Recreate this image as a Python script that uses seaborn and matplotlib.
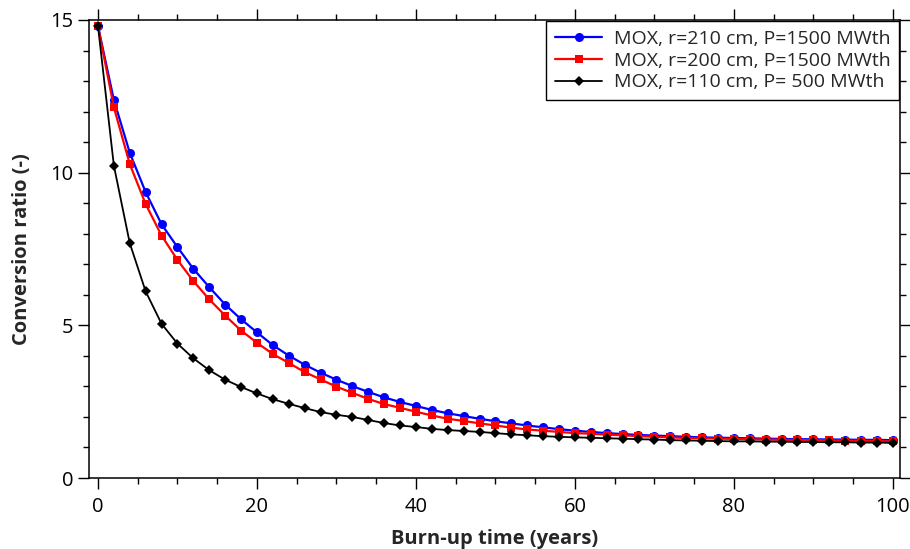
import numpy as np
import pandas as pd
import matplotlib
matplotlib.use("Agg")
import matplotlib.pyplot as plt
import seaborn as sns
from matplotlib.ticker import MultipleLocator

# burn-up time in years (one point every 2 years)
years = list(range(0, 101, 2))

cr_210_1500 = [14.80, 12.38, 10.65, 9.36, 8.31, 7.56, 6.85, 6.25, 5.68, 5.20,
               4.77, 4.35, 4.01, 3.71, 3.45, 3.22, 3.01, 2.82, 2.64, 2.49,
               2.36, 2.23, 2.12, 2.03, 1.94, 1.86, 1.79, 1.72, 1.66, 1.60,
               1.55, 1.51, 1.47, 1.44, 1.41, 1.39, 1.37, 1.35, 1.33, 1.32,
               1.31, 1.30, 1.29, 1.28, 1.27, 1.27, 1.26, 1.26, 1.25, 1.25,
               1.24]
cr_200_1500 = [14.80, 12.14, 10.28, 8.97, 7.94, 7.14, 6.45, 5.85, 5.32, 4.83,
               4.43, 4.06, 3.77, 3.47, 3.23, 2.99, 2.79, 2.59, 2.42, 2.30,
               2.17, 2.05, 1.94, 1.87, 1.79, 1.72, 1.65, 1.59, 1.55, 1.51,
               1.47, 1.45, 1.42, 1.40, 1.37, 1.35, 1.33, 1.31, 1.30, 1.29,
               1.28, 1.27, 1.26, 1.25, 1.24, 1.24, 1.23, 1.22, 1.22, 1.21,
               1.20]
cr_110_500 = [14.80, 10.23, 7.69, 6.11, 5.05, 4.40, 3.92, 3.53, 3.22, 2.98,
              2.77, 2.58, 2.43, 2.29, 2.16, 2.07, 2.00, 1.90, 1.80, 1.72,
              1.67, 1.61, 1.57, 1.54, 1.51, 1.47, 1.43, 1.40, 1.37, 1.35,
              1.33, 1.32, 1.30, 1.29, 1.27, 1.26, 1.24, 1.23, 1.22, 1.21,
              1.20, 1.20, 1.19, 1.19, 1.18, 1.18, 1.17, 1.17, 1.16, 1.16,
              1.15]

labels = ["MOX, r=210 cm, P=1500 MWth",
          "MOX, r=200 cm, P=1500 MWth",
          "MOX, r=110 cm, P= 500 MWth"]

df = pd.DataFrame({
    "years": years * 3,
    "cr": cr_210_1500 + cr_200_1500 + cr_110_500,
    "case": [labels[0]] * len(years) + [labels[1]] * len(years) + [labels[2]] * len(years),
})

sns.set_style("ticks")
plt.rcParams["font.family"] = ["Open Sans", "DejaVu Sans"]

fig = plt.figure(figsize=(9.1, 5.49), dpi=100)
ax = fig.add_axes([0.0978, 0.1293, 0.8912, 0.8343])

palette = {labels[0]: "#0000ff", labels[1]: "#ff0000", labels[2]: "#000000"}
markers = {labels[0]: "o", labels[1]: "s", labels[2]: "D"}
sns.lineplot(data=df, x="years", y="cr", hue="case", style="case",
             palette=palette, markers=markers, dashes=False,
             linewidth=1.5, markersize=6, markeredgewidth=0, ax=ax)

# per-series marker sizes / line widths
msize = {labels[0]: 6.5, labels[1]: 5.8, labels[2]: 5.2}
lw = {labels[0]: 1.6, labels[1]: 1.6, labels[2]: 1.3}
for line, lab in zip(ax.lines, labels):
    line.set_markersize(msize[lab])
    line.set_linewidth(lw[lab])

ax.set_xlim(-1.13, 100.9)
ax.set_ylim(0, 15)
ax.xaxis.set_major_locator(MultipleLocator(20))
ax.xaxis.set_minor_locator(MultipleLocator(5))
ax.yaxis.set_major_locator(MultipleLocator(5))
ax.yaxis.set_minor_locator(MultipleLocator(1))
ax.tick_params(which="both", direction="out", top=True, right=True,
               width=1, colors="black", labelsize=14.5)
ax.tick_params(which="major", length=8)
ax.tick_params(which="minor", length=4)
ax.tick_params(axis="x", which="major", pad=6)
ax.tick_params(axis="y", which="major", pad=3.5)
for s in ax.spines.values():
    s.set_linewidth(1.1)
    s.set_color("black")

ax.set_xlabel("Burn-up time (years)", fontsize=14.5, fontweight="bold", labelpad=8)
ax.set_ylabel("Conversion ratio (-)", fontsize=14.5, fontweight="bold", labelpad=13)

leg = ax.legend(loc="upper right", fontsize=14, frameon=True, fancybox=False,
                edgecolor="black", framealpha=1, borderaxespad=0.05,
                handlelength=2.4, handletextpad=0.6, labelspacing=0.2,
                borderpad=0.45)
leg.get_frame().set_linewidth(1.0)
for h, lab in zip(leg.legend_handles, labels):
    h.set_markersize(msize[lab])
    h.set_linewidth(lw[lab])

fig.savefig("out.png", dpi=100)
